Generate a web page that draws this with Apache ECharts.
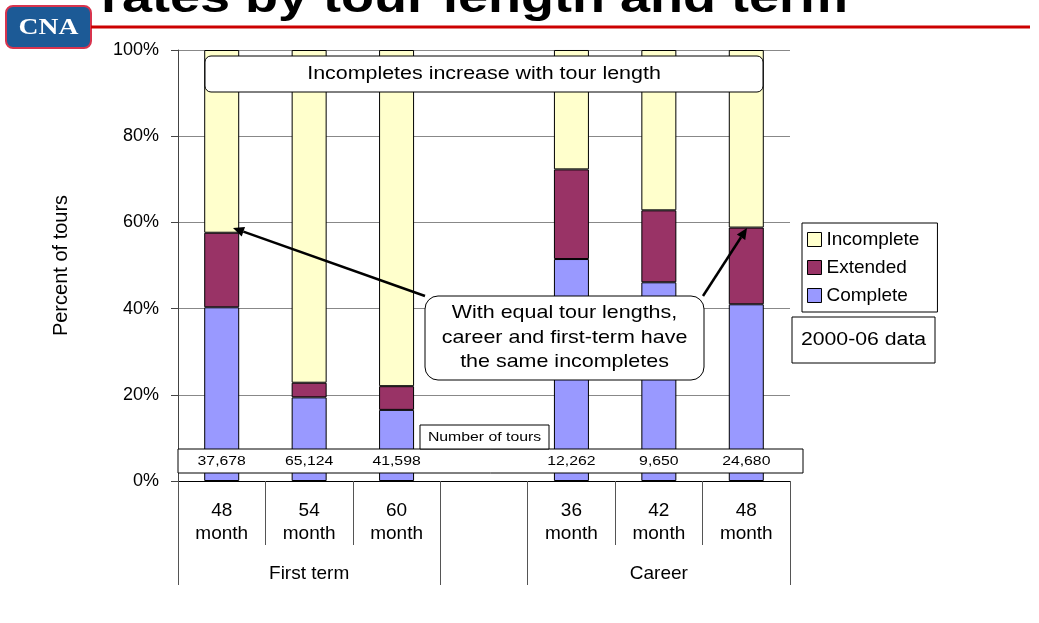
<!DOCTYPE html>
<html>
<head>
<meta charset="utf-8">
<script src="https://cdn.jsdelivr.net/npm/echarts@6/dist/echarts.min.js"></script>
<style>
  html, body { margin: 0; padding: 0; background: #fff; }
  #chart { width: 1039px; height: 623px; }
</style>
</head>
<body>
<div id="chart"></div>
<script>
// categories (the empty one is the gap between the two groups)
const categories = ['48\nmonth', '54\nmonth', '60\nmonth', '', '36\nmonth', '42\nmonth', '48\nmonth'];
const groups = ['', 'First term', '', '', '', 'Career', ''];
// percent of tours
const complete = [40.3, 19.4, 16.5, null, 51.5, 46.1, 41.0];
const extended = [17.3, 3.4, 5.5, null, 20.8, 16.7, 17.8];
const incomplete = [42.4, 77.2, 78.0, null, 27.7, 37.2, 41.2];
// number of tours
const tours = [37678, 65124, 41598, null, 12262, 9650, 24680];

const FONT = 'Arial, "Liberation Sans", sans-serif';

const fmtNum = (n) => String(n).replace(/\B(?=(\d{3})+(?!\d))/g, ',');

// arrow = line + triangle head
const arrow = (x1, y1, x2, y2) => {
  const dx = x2 - x1, dy = y2 - y1;
  const len = Math.sqrt(dx * dx + dy * dy);
  const ux = dx / len, uy = dy / len;
  const bx = x2 - ux * 11, by = y2 - uy * 11;
  return [
    { type: 'line', z: 6, shape: { x1: x1, y1: y1, x2: bx, y2: by }, style: { stroke: '#000', lineWidth: 2.5 } },
    { type: 'polygon', z: 6, shape: { points: [[x2, y2], [bx - uy * 5, by + ux * 5], [bx + uy * 5, by - ux * 5]] }, style: { fill: '#000' } }
  ];
};

const chart = echarts.init(document.getElementById('chart'));

const option = {
  animation: false,
  backgroundColor: '#fff',
  textStyle: { fontFamily: FONT, color: '#000' },
  grid: { left: 178, right: 249, top: 50, bottom: 142 },
  legend: {
    orient: 'vertical',
    left: 802,
    top: 223,
    padding: [7, 18, 7, 5],
    itemGap: 9,
    itemWidth: 14,
    itemHeight: 14,
    backgroundColor: '#fff',
    borderColor: '#000',
    borderWidth: 1,
    icon: 'rect',
    itemStyle: { borderColor: '#000', borderWidth: 1 },
    textStyle: { fontSize: 19, color: '#000' },
    data: ['Incomplete', 'Extended', 'Complete']
  },
  xAxis: [
    {
      type: 'category',
      data: categories,
      position: 'bottom',
      axisLine: { show: true, lineStyle: { color: '#000' } },
      axisTick: { show: true, interval: 0, length: 64, lineStyle: { color: '#555' } },
      axisLabel: { interval: 0, margin: 18, fontSize: 19, lineHeight: 23, color: '#000' }
    },
    {
      type: 'category',
      data: groups,
      position: 'bottom',
      axisLine: { show: false },
      axisTick: {
        show: true,
        interval: (i) => i === 0 || i === 3 || i === 4,
        length: 104,
        lineStyle: { color: '#555' }
      },
      axisLabel: { interval: 0, margin: 83, fontSize: 19, color: '#000' }
    }
  ],
  yAxis: {
    type: 'value',
    min: 0,
    max: 100,
    interval: 20,
    name: 'Percent of tours',
    nameLocation: 'middle',
    nameGap: 107,
    nameTextStyle: { fontSize: 20, color: '#000' },
    axisLine: { show: true, lineStyle: { color: '#444' } },
    axisTick: { show: true, length: 7, lineStyle: { color: '#444' } },
    axisLabel: { formatter: '{value}%', fontSize: 18, margin: 19, color: '#000' },
    splitLine: { show: true, lineStyle: { color: '#888' } }
  },
  series: [
    {
      name: 'Complete', type: 'bar', stack: 'tours', barWidth: 35, z: 2,
      itemStyle: { color: '#9999FF', borderColor: '#000', borderWidth: 1 },
      data: complete
    },
    {
      name: 'Extended', type: 'bar', stack: 'tours', barWidth: 35, z: 2,
      itemStyle: { color: '#993366', borderColor: '#000', borderWidth: 1 },
      data: extended
    },
    {
      name: 'Incomplete', type: 'bar', stack: 'tours', barWidth: 35, z: 2,
      itemStyle: { color: '#FFFFCC', borderColor: '#000', borderWidth: 1 },
      data: incomplete
    },
    {
      name: 'tours', type: 'custom', z: 8, silent: true,
      data: tours.map((t, i) => [i, 0, t]).filter(d => d[2] != null),
      renderItem: (params, api) => {
        const p = api.coord([api.value(0), 0]);
        return {
          type: 'text', x: p[0], y: p[1] - 20, scaleX: 1.17,
          style: { text: fmtNum(api.value(2)), font: '13.5px ' + FONT, fill: '#000', align: 'center', verticalAlign: 'middle' }
        };
      }
    }
  ],
  graphic: [
    // logo + title rule
    { type: 'rect', shape: { x: 6, y: 6, width: 85, height: 42, r: 7 }, style: { fill: '#1c5a96', stroke: '#d8344e', lineWidth: 2 } },
    { type: 'text', x: 48.5, y: 28, scaleX: 1.15, style: { text: 'CNA', font: 'bold 24px "Liberation Serif", serif', fill: '#fff', align: 'center', verticalAlign: 'middle' } },
    { type: 'line', shape: { x1: 91, y1: 27, x2: 1030, y2: 27 }, style: { stroke: '#cc0000', lineWidth: 3 } },
    { type: 'text', x: 101, y: 0, scaleX: 1.2, style: { text: 'rates by tour length and term', font: 'bold 45px ' + FONT, fill: '#000', align: 'left', verticalAlign: 'middle' } },
    // top note
    { type: 'rect', z: 5, shape: { x: 205, y: 56, width: 558, height: 36, r: 6 }, style: { fill: '#fff', stroke: '#000', lineWidth: 1 } },
    { type: 'text', z: 5, x: 484, y: 74, scaleX: 1.19, style: { text: 'Incompletes increase with tour length', font: '18px ' + FONT, fill: '#000', align: 'center', verticalAlign: 'middle' } },
    // callout
    ...arrow(425, 296, 233, 228),
    ...arrow(703, 296, 747, 228),
    { type: 'rect', z: 5, shape: { x: 425, y: 296, width: 279, height: 84, r: 13 }, style: { fill: '#fff', stroke: '#000', lineWidth: 1 } },
    { type: 'text', z: 5, x: 564.5, y: 337.5, scaleX: 1.16, style: { text: 'With equal tour lengths,\ncareer and first-term have\nthe same incompletes', font: '18.5px ' + FONT, lineHeight: 24.3, fill: '#000', align: 'center', verticalAlign: 'middle' } },
    // number of tours row
    { type: 'rect', z: 5, shape: { x: 178, y: 449, width: 625, height: 24 }, style: { fill: '#fff', stroke: '#000', lineWidth: 1 } },
    { type: 'rect', z: 5, shape: { x: 420, y: 425, width: 129, height: 24 }, style: { fill: '#fff', stroke: '#000', lineWidth: 1 } },
    { type: 'text', z: 5, x: 484.5, y: 437, scaleX: 1.17, style: { text: 'Number of tours', font: '13.5px ' + FONT, fill: '#000', align: 'center', verticalAlign: 'middle' } },
    // data note
    { type: 'rect', z: 5, shape: { x: 792, y: 317, width: 143, height: 46 }, style: { fill: '#fff', stroke: '#000', lineWidth: 1 } },
    { type: 'text', z: 5, x: 863.5, y: 340, scaleX: 1.18, style: { text: '2000-06 data', font: '18px ' + FONT, fill: '#000', align: 'center', verticalAlign: 'middle' } }
  ]
};

chart.setOption(option);
</script>
</body>
</html>
